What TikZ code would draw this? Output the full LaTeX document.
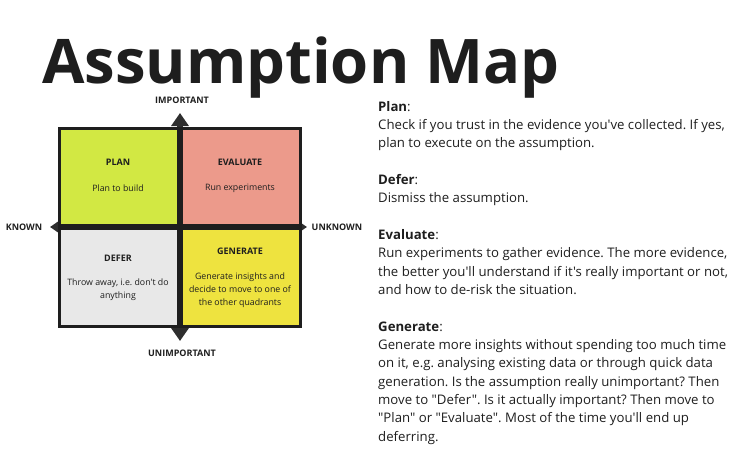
\documentclass[tikz,border=0pt]{standalone}
\usepackage{fontspec}
\setmainfont{Open Sans}[Ligatures=TeXOff]
\frenchspacing
\usepackage{tikz}
\usetikzlibrary{positioning,arrows.meta}
\definecolor{ink}{HTML}{1E1E1E}
\definecolor{axisgrey}{HTML}{2E2E2E}
\definecolor{plangreen}{HTML}{D2E843}
\definecolor{evalred}{HTML}{EC9A8B}
\definecolor{defergrey}{HTML}{E8E8E8}
\definecolor{genyellow}{HTML}{EEE33F}

\begin{document}
\begin{tikzpicture}[x=1pt, y=-1pt, >=Latex,
    cell/.style={draw=ink, line width=3pt, minimum width=119pt, minimum height=97.5pt, inner sep=0pt},
    celltitle/.style={ink, font=\fontsize{9}{11}\selectfont\bfseries},
    celltext/.style={ink, font=\fontsize{8.8}{13}\selectfont, align=center},
    axislabel/.style={ink, font=\fontsize{9}{10}\selectfont\bfseries},
    axisline/.style={axisgrey, line width=6pt, {Triangle[width=17pt,length=13pt]}-{Triangle[width=17pt,length=13pt]}}]
    \useasboundingbox (0,0) rectangle (740,455);
    % title
    \node[ink, anchor=base west, inner sep=0pt, text depth=0pt, font=\fontsize{61.5}{70}\selectfont\bfseries] (title) at (42,83) {Assumption Map};
    % axes
    \coordinate (known) at (50,227);
    \coordinate (unknown) at (307,227);
    \coordinate (imp) at (180,113);
    \coordinate (unimp) at (180,341);
    \draw[axisline] (known) -- (unknown);
    \draw[axisline] (imp) -- (unimp);
    \node[axislabel] (impl) at (182,100.5) {IMPORTANT};
    \node[axislabel] (unimpl) at (182,353) {UNIMPORTANT};
    \node[axislabel] (knownl) at (24,227) {KNOWN};
    \node[axislabel] (unknownl) at (337,227) {UNKNOWN};
    % quadrant cells
    \node[cell, fill=plangreen] (plan) at (119,177) {};
    \node[cell, fill=evalred] (eval) at (241,177) {};
    \node[cell, fill=defergrey] (defer) at (119,277.5) {};
    \node[cell, fill=genyellow] (gen) at (241,277.5) {};
    \node[celltitle] (plant) at (118,162) {PLAN};
    \node[celltext] (plans) at (118,188) {Plan to build};
    \node[celltitle] (evalt) at (240,162) {EVALUATE};
    \node[celltext] (evals) at (240,188) {Run experiments};
    \node[celltitle] (defert) at (118,258) {DEFER};
    \node[celltext] (defers) at (118,289.5) {Throw away, i.e. don't do\\anything};
    \node[celltitle] (gent) at (240,251) {GENERATE};
    \node[celltext] (gens) at (240,290) {Generate insights and\\decide to move to one of\\the other quadrants};
    % notes on the right
    \node[ink, anchor=north west, inner sep=0pt, align=left, font=\fontsize{13.2}{18.33}\selectfont] (notes) at (378,101) {%
      \textbf{Plan}:\\
      Check if you trust in the evidence you've collected. If yes,\\
      plan to execute on the assumption.\\[18.33pt]
      \textbf{Defer}:\\
      Dismiss the assumption.\\[18.33pt]
      \textbf{Evaluate}:\\
      Run experiments to gather evidence. The more evidence,\\
      the better you'll understand if it's really important or not,\\
      and how to de-risk the situation.\\[18.33pt]
      \textbf{Generate}:\\
      Generate more insights without spending too much time\\
      on it, e.g. analysing existing data or through quick data\\
      generation. Is the assumption really unimportant? Then\\
      move to "Defer". Is it actually important? Then move to\\
      "Plan" or "Evaluate". Most of the time you'll end up\\
      deferring.};
\end{tikzpicture}
\end{document}
